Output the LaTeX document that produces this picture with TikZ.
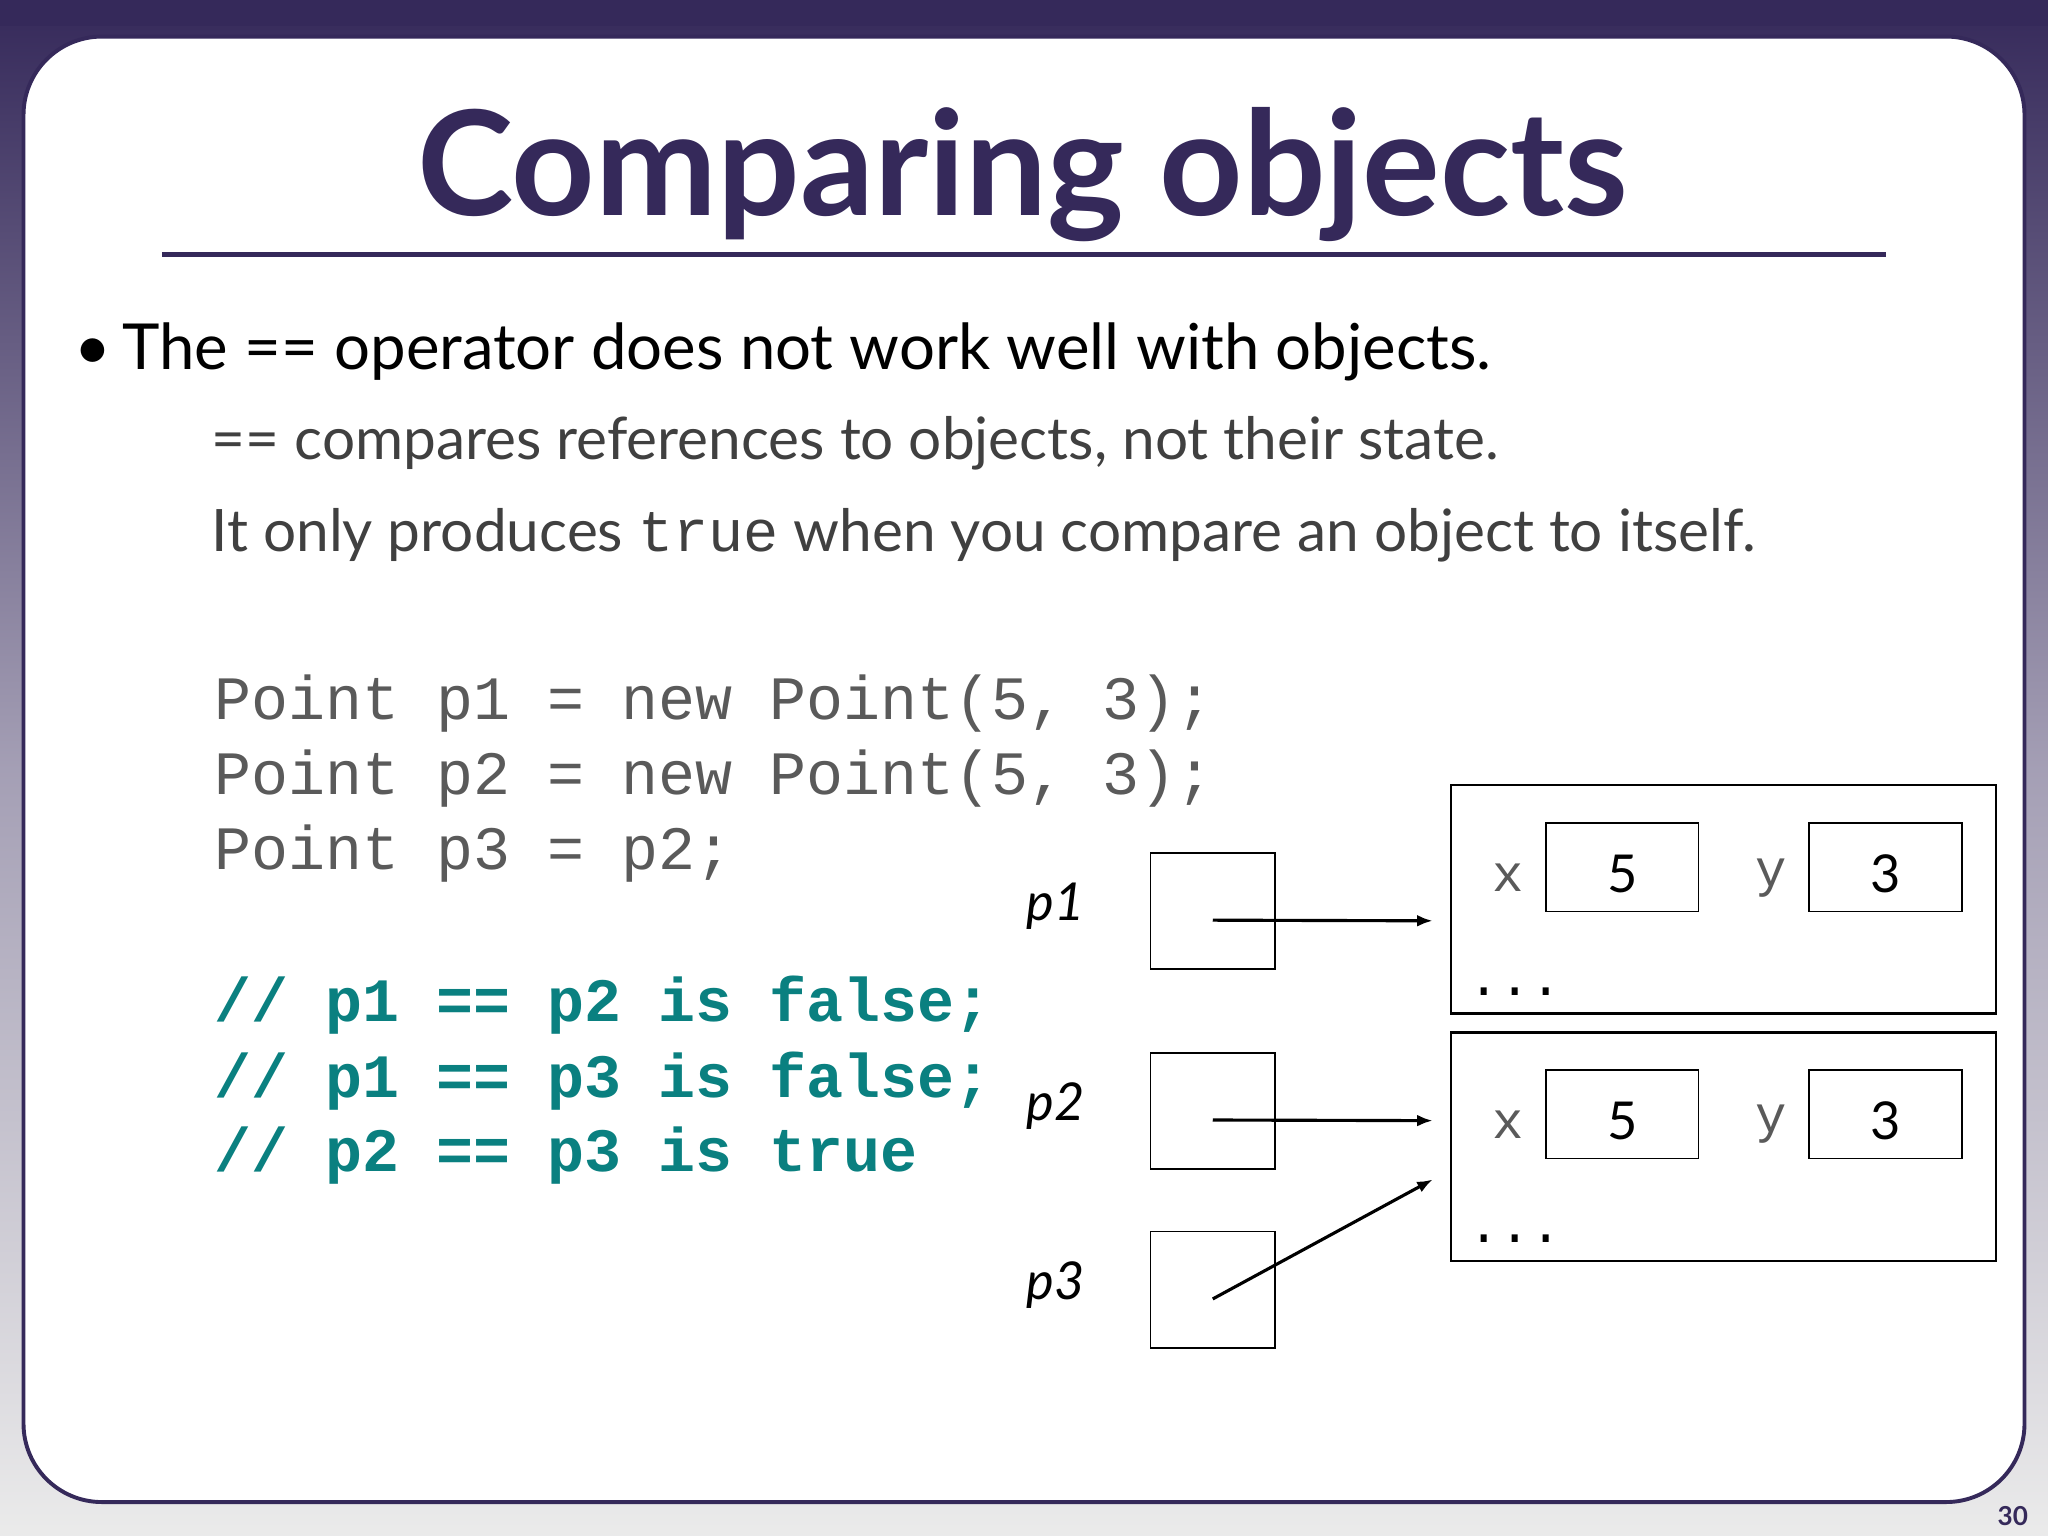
\documentclass[tikz,border=0pt]{standalone}
\usepackage{fontspec}
\setmainfont{Lato}
\setmonofont{Liberation Mono}
\usetikzlibrary{arrows.meta}
\definecolor{dpurp}{HTML}{35295A}
\definecolor{codegrey}{HTML}{5A5A5A}
\definecolor{teal2}{HTML}{0A8080}
\begin{document}
\begin{tikzpicture}[x=0.5pt,y=-0.5pt,
  refbox/.style={draw,line width=0.6pt,minimum width=47.5pt,minimum height=44.5pt,inner sep=0},
  objbox/.style={draw,line width=0.9pt,minimum width=208.5pt,minimum height=87.5pt,inner sep=0},
  valbox/.style={draw,line width=0.6pt,minimum width=58.5pt,minimum height=34pt,inner sep=0,font=\fontsize{20}{24}\selectfont},
  mono/.style={font=\ttfamily\fontsize{20}{24}\selectfont,text=codegrey},
  code/.style={font=\ttfamily\fontsize{23.6}{29}\selectfont,text=codegrey,anchor=base west},
  cmt/.style={font=\ttfamily\bfseries\fontsize{23.6}{29}\selectfont,text=teal2,anchor=base west},
  lab/.style={font=\itshape\fontsize{20}{24}\selectfont},
  arr/.style={-{Latex[length=6pt,width=4.5pt]},line width=1.2pt}]
\useasboundingbox (0,0) rectangle (1568,1176);
\shade[top color=dpurp,bottom color=white!92!black,middle color=dpurp!45!white] (0,0) rectangle (1568,1176);
\fill[dpurp] (0,0) rectangle (1568,20);
\draw[fill=white,draw=dpurp,line width=1.5pt,rounded corners=30pt] (18,28) rectangle (1550,1150);
\node[font=\bfseries\fontsize{55.7}{66}\selectfont,text=dpurp] (title) at (783,134) {Comparing objects};
\draw[dpurp,line width=2pt] (124,195) -- (1444,195);
\node[anchor=base west,font=\fontsize{24.3}{29}\selectfont] (b1) at (50,283) {\textbullet\hspace{-2pt} The == operator does not work well with objects.};
\node[anchor=base west,font=\fontsize{22.4}{26}\selectfont,text=black!75] (b2) at (155,352) {== compares references to objects, not their state.};
\node[anchor=base west,font=\fontsize{22.4}{26}\selectfont,text=black!75] (b3) at (155,422) {It only produces \texttt{true} when you compare an object to itself.};
\node[code] (c1) at (157,551) {Point p1 = new Point(5, 3);};
\node[code] (c2) at (157,608) {Point p2 = new Point(5, 3);};
\node[code] (c3) at (157,666) {Point p3 = p2;};
\node[cmt] (m1) at (157,782) {// p1 == p2 is false;};
\node[cmt] (m2) at (157,840) {// p1 == p3 is false;};
\node[cmt] (m3) at (157,897) {// p2 == p3 is true};
% refs
\node[refbox] (r1) at (928.5,697.5) {};
\node[refbox] (r2) at (928.5,850.5) {};
\node[refbox] (r3) at (928.5,987.5) {};
\node[lab] (l1) at (808,694) {p1};
\node[lab] (l2) at (808,847) {p2};
\node[lab] (l3) at (808,984) {p3};
% objects
\node[objbox] (o1) at (1319.5,688.5) {};
\node[objbox] (o2) at (1319.5,878) {};
\node[valbox] (x1) at (1242,664) {};
\node[valbox] (y1) at (1443.5,664) {};
\node[valbox] (x2) at (1242,853) {};
\node[valbox] (y2) at (1443.5,853) {};
\node[font=\fontsize{20}{24}\selectfont] at (x1.center) [yshift=-2.5pt] {5};
\node[font=\fontsize{20}{24}\selectfont] at (y1.center) [yshift=-2.5pt] {3};
\node[font=\fontsize{20}{24}\selectfont] at (x2.center) [yshift=-2.5pt] {5};
\node[font=\fontsize{20}{24}\selectfont] at (y2.center) [yshift=-2.5pt] {3};
\node[mono] (xl1) at (1155,672) {x};
\node[mono] (yl1) at (1356,672) {y};
\node[mono] (xl2) at (1155,861) {x};
\node[mono] (yl2) at (1356,861) {y};
\node[mono,text=black] (d1) at (1160,759) {...};
\node[mono,text=black] (d2) at (1160,948) {...};
\coordinate (t1) at (1097,705);
\coordinate (t2) at (1097,858);
\coordinate (t3) at (1097,903);
\draw[arr] (r1.center) ++(0,7) -- (t1);
\draw[arr] (r2.center) ++(0,7) -- (t2);
\draw[arr] (r3.center) ++(0,7) -- (t3);
\node[font=\bfseries\fontsize{10}{12}\selectfont,text=dpurp] (pg) at (1541,1161) {30};
\end{tikzpicture}
\end{document}
